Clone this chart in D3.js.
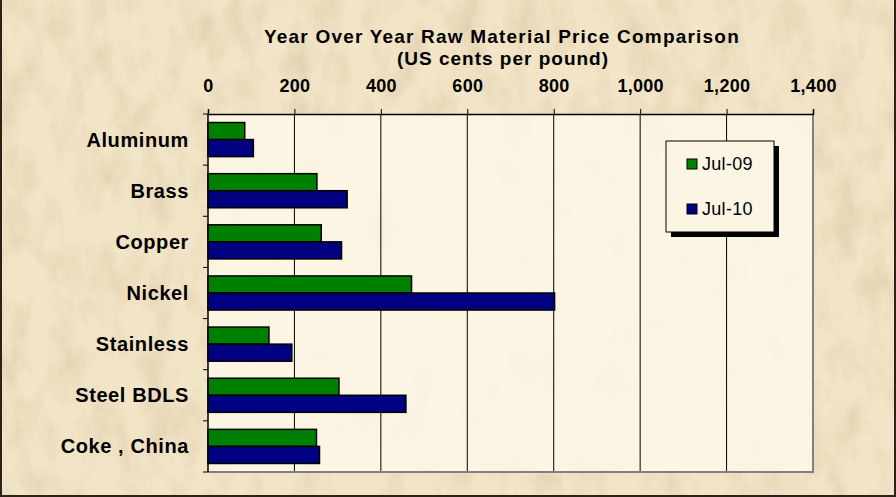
<!DOCTYPE html>
<html>
<head>
<meta charset="utf-8">
<script src="https://cdn.jsdelivr.net/npm/d3@7"></script>
<style>
  body { margin: 0; background: #efe0c0; }
  svg { display: block; }
</style>
</head>
<body>
<div id="chart"></div>
<script>
// chart data
let materials = ["Aluminum", "Brass", "Copper", "Nickel", "Stainless", "Steel BDLS", "Coke , China"];
let seriesNames = ["Jul-09", "Jul-10"];
let jul09 = [85, 252, 262, 471, 141, 303, 251];
let jul10 = [105, 322, 309, 802, 194, 458, 258];
let xTicks = [0, 200, 400, 600, 800, 1000, 1200, 1400];
let seriesColors = ["#008000", "#000080"];

let width = 896;
let height = 497;
let font = "'Liberation Sans', Arial, sans-serif";

/* plot area edges */
let plotLeft = 208;
let plotRight = 813;
let plotTop = 114;
let plotBottom = 472;

let svg = d3.select("#chart")
    .append("svg")
    .attr("width", width)
    .attr("height", height);

/* parchment texture filters */
let defs = svg.append("defs");

let parch = defs.append("filter").attr("id", "parch")
    .attr("x", 0).attr("y", 0).attr("width", 1).attr("height", 1);
parch.append("feTurbulence")
    .attr("type", "fractalNoise")
    .attr("baseFrequency", "0.035 0.02")
    .attr("numOctaves", 4)
    .attr("seed", 7)
    .attr("result", "noise");
parch.append("feColorMatrix")
    .attr("in", "noise")
    .attr("type", "matrix")
    .attr("values", "0 0 0 0 0.70  0 0 0 0 0.58  0 0 0 0 0.40  1.4 0 0 0 -0.58")
    .attr("result", "spots");
parch.append("feMerge").call(m => {
    m.append("feMergeNode").attr("in", "SourceGraphic");
    m.append("feMergeNode").attr("in", "spots");
});

let plotTex = defs.append("filter").attr("id", "plotTex")
    .attr("x", 0).attr("y", 0).attr("width", 1).attr("height", 1);
plotTex.append("feTurbulence")
    .attr("type", "fractalNoise")
    .attr("baseFrequency", "0.03 0.02")
    .attr("numOctaves", 3)
    .attr("seed", 11)
    .attr("result", "noise");
plotTex.append("feColorMatrix")
    .attr("in", "noise")
    .attr("type", "matrix")
    .attr("values", "0 0 0 0 0.88  0 0 0 0 0.80  0 0 0 0 0.64  0.7 0 0 0 -0.36")
    .attr("result", "spots");
plotTex.append("feMerge").call(m => {
    m.append("feMergeNode").attr("in", "SourceGraphic");
    m.append("feMergeNode").attr("in", "spots");
});

/* background */
svg.append("rect")
    .attr("width", width).attr("height", height)
    .attr("fill", "#f2e4c6")
    .attr("filter", "url(#parch)");

/* dark frame on left, right and bottom */
svg.append("path")
    .attr("d", "M1,0V" + (height - 1) + "H" + (width - 1) + "V0")
    .attr("fill", "none")
    .attr("stroke", "#2a2418")
    .attr("stroke-width", 2);

/* plot area */
svg.append("rect")
    .attr("x", plotLeft).attr("y", plotTop)
    .attr("width", plotRight - plotLeft).attr("height", plotBottom - plotTop)
    .attr("fill", "#fcf5e4")
    .attr("filter", "url(#plotTex)");

/* scales */
let xScale = d3.scaleLinear()
    .domain([0, 1400])
    .range([plotLeft, plotRight]);

let yScale = d3.scaleBand()
    .domain(materials)
    .range([plotTop, plotBottom]);

let ySub = d3.scaleBand()
    .domain(seriesNames)
    .range([0, yScale.bandwidth()])
    .paddingOuter(0.5);

/* gridlines */
svg.append("g")
    .selectAll("line")
    .data(xTicks.filter(t => t > 0 && t < 1400))
    .enter()
    .append("line")
    .attr("x1", d => xScale(d)).attr("x2", d => xScale(d))
    .attr("y1", plotTop).attr("y2", plotBottom)
    .attr("stroke", "#000")
    .attr("stroke-width", 1);

/* right and bottom plot border (grey) */
svg.append("path")
    .attr("d", "M" + plotRight + "," + plotTop + "V" + plotBottom + "H" + plotLeft)
    .attr("fill", "none")
    .attr("stroke", "#808080")
    .attr("stroke-width", 2);

/* bars */
let rows = materials.map((m, i) => ({ name: m, values: [jul09[i], jul10[i]] }));

let group = svg.append("g").selectAll("g")
    .data(rows)
    .enter()
    .append("g")
    .attr("transform", d => "translate(0," + yScale(d.name) + ")");

group.selectAll("rect")
    .data(d => d.values.map((v, j) => ({ series: seriesNames[j], value: v, color: seriesColors[j] })))
    .enter()
    .append("rect")
    .attr("x", xScale(0))
    .attr("y", d => ySub(d.series))
    .attr("width", d => xScale(d.value) - xScale(0))
    .attr("height", ySub.bandwidth())
    .attr("fill", d => d.color)
    .attr("stroke", "#000")
    .attr("stroke-width", 1.5);

/* value axis along the top */
let xAxis = d3.axisTop(xScale)
    .tickValues(xTicks)
    .tickSize(5)
    .tickPadding(17)
    .tickFormat(d3.format(","));

let xg = svg.append("g")
    .attr("transform", "translate(0," + plotTop + ")")
    .call(xAxis);
xg.select(".domain").attr("stroke", "#000").attr("stroke-width", 1.5);
xg.selectAll(".tick line").attr("stroke", "#000");
xg.selectAll(".tick text")
    .attr("fill", "#000")
    .style("font-family", font)
    .style("font-size", "18px")
    .style("font-weight", "bold")
    .style("letter-spacing", "0.3px");

/* category axis on the left */
let bounds = materials.map(m => yScale(m)).concat([plotBottom]);
svg.append("line")
    .attr("x1", plotLeft).attr("x2", plotLeft)
    .attr("y1", plotTop).attr("y2", plotBottom)
    .attr("stroke", "#000").attr("stroke-width", 1.5);
svg.append("g").selectAll("line")
    .data(bounds)
    .enter()
    .append("line")
    .attr("x1", plotLeft - 5).attr("x2", plotLeft)
    .attr("y1", d => d).attr("y2", d => d)
    .attr("stroke", "#000");

svg.append("g").selectAll("text")
    .data(materials)
    .enter()
    .append("text")
    .attr("x", 189)
    .attr("y", d => yScale(d) + yScale.bandwidth() / 2 + 7)
    .attr("text-anchor", "end")
    .style("font-family", font)
    .style("font-size", "20px")
    .style("font-weight", "bold")
    .style("letter-spacing", "0.6px")
    .text(d => d);

/* title */
svg.append("text")
    .attr("x", 502).attr("y", 43)
    .attr("text-anchor", "middle")
    .style("font-family", font)
    .style("font-size", "19px")
    .style("font-weight", "bold")
    .style("letter-spacing", "1.2px")
    .text("Year Over Year Raw Material Price Comparison");
svg.append("text")
    .attr("x", 503).attr("y", 65)
    .attr("text-anchor", "middle")
    .style("font-family", font)
    .style("font-size", "19px")
    .style("font-weight", "bold")
    .style("letter-spacing", "1px")
    .text("(US cents per pound)");

/* legend */
let legendX = 666;
let legendY = 141;
let legendW = 108;
let legendH = 91;

svg.append("rect")
    .attr("x", legendX + 5).attr("y", legendY + 5)
    .attr("width", legendW).attr("height", legendH)
    .attr("fill", "#000");
svg.append("rect")
    .attr("x", legendX).attr("y", legendY)
    .attr("width", legendW).attr("height", legendH)
    .attr("fill", "#fcf5e4")
    .attr("stroke", "#000")
    .attr("stroke-width", 1);

let legend = svg.append("g").selectAll("g")
    .data(seriesNames)
    .enter()
    .append("g")
    .attr("transform", (d, i) => "translate(" + (legendX + 21) + "," + (legendY + 18 + i * 45) + ")");

legend.append("rect")
    .attr("width", 10).attr("height", 10)
    .attr("fill", (d, i) => seriesColors[i])
    .attr("stroke", "#000");

legend.append("text")
    .attr("x", 15).attr("y", 11)
    .style("font-family", font)
    .style("font-size", "18px")
    .style("letter-spacing", "0.3px")
    .text(d => d);
</script>
</body>
</html>
